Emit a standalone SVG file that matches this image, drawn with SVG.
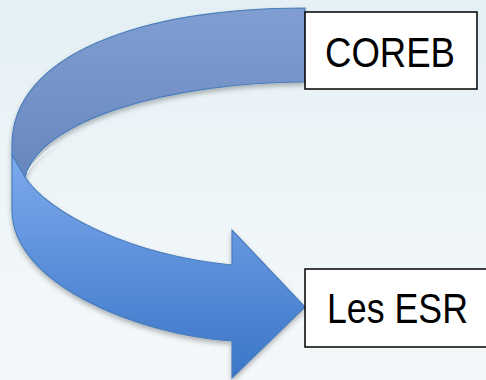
<svg xmlns="http://www.w3.org/2000/svg" width="486" height="380" viewBox="0 0 486 380">
  <defs>
    <linearGradient id="bg" x1="0" y1="0" x2="0" y2="1">
      <stop offset="0" stop-color="#e4f0f5"/>
      <stop offset="0.5" stop-color="#eef5f8"/>
      <stop offset="1" stop-color="#f5f8fa"/>
    </linearGradient>
    <linearGradient id="upper" x1="0" y1="8" x2="0" y2="177" gradientUnits="userSpaceOnUse">
      <stop offset="0" stop-color="#809ed1"/>
      <stop offset="1" stop-color="#6887bd"/>
    </linearGradient>
    <linearGradient id="lower" x1="0" y1="155" x2="0" y2="378" gradientUnits="userSpaceOnUse">
      <stop offset="0" stop-color="#7ea9ec"/>
      <stop offset="1" stop-color="#3a76c8"/>
    </linearGradient>
    <filter id="shadow" x="-10%" y="-10%" width="120%" height="130%">
      <feDropShadow dx="0" dy="3" stdDeviation="2.5" flood-color="#000" flood-opacity="0.28"/>
    </filter>
    <style>
      .band { stroke: #4a7ebb; stroke-width: 1.2; stroke-linejoin: miter; }
      .box { fill: #ffffff; stroke: #000000; stroke-width: 1.5; }
      .label { font-family: "Liberation Sans", Arial, sans-serif; font-size: 42px; fill: #000000; text-anchor: middle; }
    </style>
  </defs>
  <rect x="0" y="0" width="486" height="380" fill="url(#bg)"/>
  <g id="connectors" filter="url(#shadow)">
    <path class="band" fill="url(#upper)" d="M305,8 C140,8 12,55 12,145 L12,155 L25,177 C40,120 170,82 305,82 Z"/>
    <path class="band" fill="url(#lower)" d="M12,155 L25,177 C48,213 130,255 232,265 L232,230 L305,307 L232,378 L232,341 C140,335 12,285 12,210 Z"/>
    <path d="M27,173 C33,163 42,154 54,146" fill="none" stroke="#ffffff" stroke-width="1" opacity="0.7"/>
  </g>
  <g id="coreb">
    <rect class="box" x="305" y="12" width="172" height="77"/>
    <text class="label" x="390" y="67" textLength="130" lengthAdjust="spacingAndGlyphs">COREB</text>
  </g>
  <g id="les-esr">
    <rect class="box" x="305" y="269" width="182" height="78"/>
    <text class="label" x="397.5" y="323" textLength="141" lengthAdjust="spacingAndGlyphs">Les ESR</text>
  </g>
</svg>
